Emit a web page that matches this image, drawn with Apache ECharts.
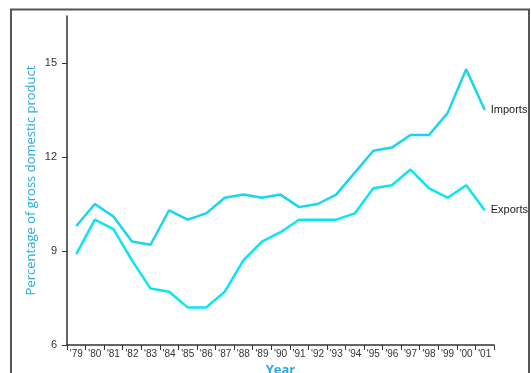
<!DOCTYPE html>
<html>
<head>
<meta charset="utf-8">
<script src="https://cdn.jsdelivr.net/npm/echarts@6/dist/echarts.min.js"></script>
<style>
  html, body { margin: 0; padding: 0; background: #fff; }
  #chart { width: 531px; height: 373px; }
</style>
</head>
<body>
<div id="chart"></div>
<script>
// years and share of GDP
const years = ["'79", "'80", "'81", "'82", "'83", "'84", "'85", "'86", "'87", "'88", "'89", "'90",
  "'91", "'92", "'93", "'94", "'95", "'96", "'97", "'98", "'99", "'00", "'01"];
const imports = [9.8, 10.5, 10.1, 9.3, 9.2, 10.3, 10.0, 10.2, 10.7, 10.8, 10.7, 10.8,
  10.4, 10.5, 10.8, 11.5, 12.2, 12.3, 12.7, 12.7, 13.4, 14.8, 13.5];
const exports = [8.9, 10.0, 9.7, 8.7, 7.8, 7.7, 7.2, 7.2, 7.7, 8.7, 9.3, 9.6,
  10.0, 10.0, 10.0, 10.2, 11.0, 11.1, 11.6, 11.0, 10.7, 11.1, 10.3];
const yTicks = [6, 9, 12, 15];

const myChart = echarts.init(document.getElementById('chart'));

const lineSeries = (name, data, color) => ({
  name: name,
  type: 'line',
  data: data,
  symbol: 'none',
  smooth: false,
  lineStyle: { color: color, width: 2.5 },
  endLabel: {
    show: true,
    formatter: name,
    color: '#222',
    fontSize: 11,
    fontFamily: 'Liberation Sans',
    distance: 6
  }
});

const option = {
  animation: false,
  grid: { left: 67, right: 37, top: 16, bottom: 28, outerBoundsMode: 'none', containLabel: false },
  graphic: [{
    type: 'rect',
    shape: { x: 11, y: 9.5, width: 518, height: 400 },
    style: { fill: 'none', stroke: '#555', lineWidth: 2 },
    silent: true
  }],
  xAxis: {
    type: 'category',
    data: years,
    boundaryGap: true,
    name: 'Year',
    nameLocation: 'middle',
    nameGap: 18,
    nameTextStyle: { color: '#29a9e0', fontSize: 13, fontWeight: 'bold', fontFamily: 'Open Sans' },
    axisLine: { lineStyle: { color: '#333', width: 1.5 } },
    axisTick: { show: true, length: 5, lineStyle: { color: '#333' } },
    axisLabel: { color: '#333', fontSize: 10, margin: 4, fontFamily: 'Liberation Sans', interval: 0 },
    splitLine: { show: false }
  },
  yAxis: {
    type: 'value',
    min: 6,
    max: 16.5,
    interval: 3,
    name: 'Percentage of gross domestic product',
    nameLocation: 'middle',
    nameGap: 29,
    nameMoveOverlap: false,
    nameTextStyle: { color: '#29a9e0', fontSize: 13, fontFamily: 'Open Sans' },
    axisLine: { show: true, lineStyle: { color: '#333', width: 1.5 } },
    axisTick: { show: true, length: 5, customValues: yTicks, lineStyle: { color: '#333' } },
    axisLabel: { color: '#333', fontSize: 11, margin: 10, fontFamily: 'Liberation Sans', customValues: yTicks },
    splitLine: { show: false }
  },
  series: [
    lineSeries('Imports', imports, '#17d6ee'),
    lineSeries('Exports', exports, '#08e6f4')
  ]
};

myChart.setOption(option);
</script>
</body>
</html>
